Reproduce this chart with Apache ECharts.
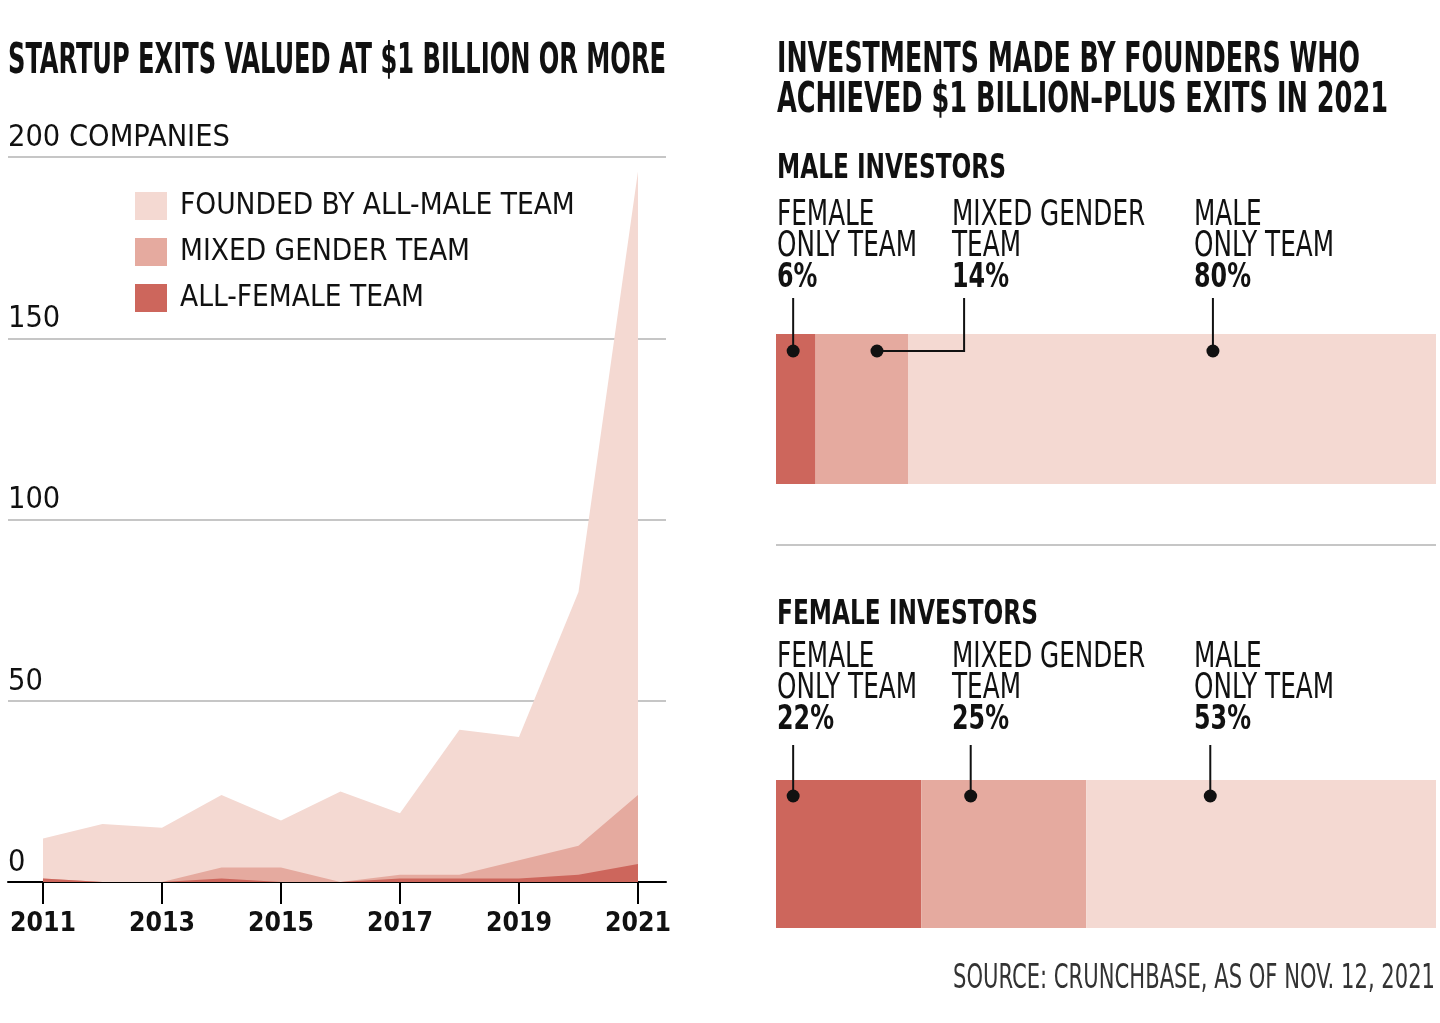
<!DOCTYPE html>
<html><head><meta charset="utf-8">
<script src="https://cdn.jsdelivr.net/npm/echarts@6/dist/echarts.min.js"></script>
<style>html,body{margin:0;padding:0;background:#fff}#c{width:1440px;height:1023px}</style>
</head><body><div id="c"></div>
<script>
// ---------- data ----------
const years = [2011,2012,2013,2014,2015,2016,2017,2018,2019,2020,2021];
const allMale   = [11,16,15,20,13,25,17,40,34,70,172];
const mixedTeam = [0,0,0,3,4,0,1,1,5,8,19];
const allFemale = [1,0,0,1,0,0,1,1,1,2,5];
const xTickYears = [2011,2013,2015,2017,2019,2021];
const yTicks = [0,50,100,150,200];
const seriesNames = ['FOUNDED BY ALL-MALE TEAM','MIXED GENDER TEAM','ALL-FEMALE TEAM'];

const teamLabels = [['FEMALE','ONLY TEAM'],['MIXED GENDER','TEAM'],['MALE','ONLY TEAM']];
const maleInvestorShares   = [6,14,80];
const femaleInvestorShares = [22,25,53];
// annotation anchors in % along the bar: [dot position, leader line position]
const maleAnchors   = [[2.6,2.6],[15.3,28.5],[66.2,66.2]];
const femaleAnchors = [[2.6,2.6],[29.5,29.5],[65.8,65.8]];

// ---------- style ----------
const COLORS = ['#f4d9d2','#e5aa9f','#cd665c']; // male, mixed, female
const FONT = "'Liberation Sans Narrow','DejaVu Sans Condensed','Roboto Condensed',sans-serif";
const INK = '#111';

const ctx = document.createElement('canvas').getContext('2d');
function measure(text, size, weight){ ctx.font = (weight||'normal')+' '+size+'px '+FONT; return ctx.measureText(text).width; }
function fitSize(text, size, weight, w){ return size * w / measure(text, size, weight); }
function fitScale(text, size, weight, w){ return w / measure(text, size, weight); }

function txt(text, x, y, size, weight, scaleX, align, color){
  return {type:'text', x:x, y:y, scaleX:scaleX, silent:true,
    style:{text:text, x:0, y:0, fontSize:size, fontWeight:weight, fontFamily:FONT,
      fill:color||INK, align:align||'left', verticalAlign:'middle'}};
}

const legendSize = fitSize('FOUNDED BY ALL-MALE TEAM', 30, 'normal', 395);
const yLabelSize = fitSize('200 COMPANIES', 31, 'normal', 222);
const xLabelSize = fitSize('2013', 31, 'bold', 66);

// graphic texts
const graphics = [];
graphics.push(txt('STARTUP EXITS VALUED AT $1 BILLION OR MORE', 8, 62, 42, 'bold',
  fitScale('STARTUP EXITS VALUED AT $1 BILLION OR MORE', 42, 'bold', 658)));
graphics.push(txt('INVESTMENTS MADE BY FOUNDERS WHO', 777, 61, 42, 'bold',
  fitScale('INVESTMENTS MADE BY FOUNDERS WHO', 42, 'bold', 583)));
graphics.push(txt('ACHIEVED $1 BILLION\u2013PLUS EXITS IN 2021', 777, 101, 42, 'bold',
  fitScale('ACHIEVED $1 BILLION\u2013PLUS EXITS IN 2021', 42, 'bold', 611)));
graphics.push(txt('MALE INVESTORS', 777, 169, 34, 'bold', fitScale('MALE INVESTORS', 34, 'bold', 229)));
graphics.push(txt('FEMALE INVESTORS', 777, 615, 34, 'bold', fitScale('FEMALE INVESTORS', 34, 'bold', 261)));

const regScale = fitScale('ONLY TEAM', 35, 'normal', 140);
const pctScale = fitScale('80%', 34, 'bold', 57);
const colX = [777, 952, 1194];
function labelBlock(shares, y0){
  teamLabels.forEach((lines, i) => {
    graphics.push(txt(lines[0], colX[i], y0, 35, 'normal', regScale));
    graphics.push(txt(lines[1], colX[i], y0 + 31, 35, 'normal', regScale));
    graphics.push(txt(shares[i] + '%', colX[i], y0 + 62, 34, 'bold', pctScale));
  });
}
labelBlock(maleInvestorShares, 216);
labelBlock(femaleInvestorShares, 658);

graphics.push({type:'line', silent:true, shape:{x1:776, y1:545, x2:1436, y2:545}, style:{stroke:'#b3b3b3', lineWidth:1.5}});
graphics.push(txt('SOURCE: CRUNCHBASE, AS OF NOV. 12, 2021', 1435, 979, 33, 'normal',
  fitScale('SOURCE: CRUNCHBASE, AS OF NOV. 12, 2021', 33, 'normal', 482), 'right', '#333'));

// ---------- series ----------
// stacked areas: each band's upper edge = cumulative sum of the layers below it
const layers = [allFemale, mixedTeam, allMale];
const cumulative = layers.map((_, k) => years.map((_, i) => layers.slice(0, k+1).reduce((s, arr) => s + arr[i], 0)));
function area(name, values, color, z){
  return {type:'line', name:name, xAxisIndex:0, yAxisIndex:0, z:z,
    data: years.map((y,i)=>[y, values[i]]), symbol:'none', smooth:false,
    lineStyle:{width:0, color:color}, itemStyle:{color:color},
    areaStyle:{color:color, opacity:1}};
}
function bars(shares, idx, prefix){
  return shares.map((v,i)=>({type:'bar', name:prefix+i, stack:prefix, xAxisIndex:idx, yAxisIndex:idx,
    data:[v], barWidth:'100%', silent:true, itemStyle:{color:COLORS[[2,1,0][i]]}}));
}
function annot(lead, drop){
  return function(params, api){
    const p = api.coord([api.value(0), 0]);
    const q = api.coord([api.value(2), 0]);
    const bh = api.size([0,1])[1];
    const top = p[1] - bh/2;
    const dy = top + drop;
    return {type:'group', children:[
      {type:'polyline', shape:{points:[[p[0],dy],[q[0],dy],[q[0],top-lead]]}, style:{stroke:INK, lineWidth:2, fill:null}},
      {type:'circle', shape:{cx:p[0], cy:dy, r:6.5}, style:{fill:INK}}
    ]};
  };
}

const option = {
  animation:false,
  backgroundColor:'#fff',
  textStyle:{fontFamily:FONT},
  grid:[
    {left:8, top:157, width:658, height:725},
    {left:776, top:334, width:660, height:150},
    {left:776, top:780, width:660, height:148}
  ],
  legend:{
    data:seriesNames, orient:'vertical', left:135, top:191, icon:'rect', padding:0,
    itemWidth:32, itemHeight:28, itemGap:16, selectedMode:false,
    itemStyle:{borderWidth:0},
    textStyle:{fontSize:legendSize, color:INK, fontFamily:FONT, padding:[0,0,0,8]}
  },
  xAxis:[
    {gridIndex:0, type:'value', min:2010.412, max:2021.471,
      axisLine:{show:true, onZero:false, lineStyle:{color:'#000', width:2}},
      axisTick:{show:true, customValues:xTickYears, length:22, lineStyle:{color:'#000', width:2}},
      axisLabel:{customValues:xTickYears, margin:29, fontSize:xLabelSize, fontWeight:'bold', color:INK, fontFamily:FONT,
        formatter: v => String(v)},
      splitLine:{show:false}},
    {gridIndex:1, type:'value', min:0, max:100, show:false},
    {gridIndex:2, type:'value', min:0, max:100, show:false}
  ],
  yAxis:[
    {gridIndex:0, type:'value', min:0, max:200, interval:50,
      axisLine:{show:false}, axisTick:{show:false},
      splitLine:{lineStyle:{color:'#b3b3b3', width:1.5}},
      axisLabel:{inside:true, margin:0, verticalAlign:'bottom', lineHeight:38,
        fontSize:yLabelSize, color:INK, fontFamily:FONT,
        formatter: v => v === yTicks[yTicks.length-1] ? v + ' COMPANIES' : String(v)}},
    {gridIndex:1, type:'category', data:['MALE INVESTORS'], show:false},
    {gridIndex:2, type:'category', data:['FEMALE INVESTORS'], show:false}
  ],
  series:[
    area(seriesNames[0], cumulative[2], COLORS[0], 2),
    area(seriesNames[1], cumulative[1], COLORS[1], 3),
    area(seriesNames[2], cumulative[0], COLORS[2], 4),
    ...bars(maleInvestorShares, 1, 'm'),
    ...bars(femaleInvestorShares, 2, 'f'),
    {type:'custom', xAxisIndex:1, yAxisIndex:1, z:10, silent:true, clip:false,
      data: maleAnchors.map(a=>[a[0],0,a[1]]), encode:{x:0, y:1}, renderItem: annot(36, 17)},
    {type:'custom', xAxisIndex:2, yAxisIndex:2, z:10, silent:true, clip:false,
      data: femaleAnchors.map(a=>[a[0],0,a[1]]), encode:{x:0, y:1}, renderItem: annot(35, 16)}
  ],
  graphic: graphics
};
const chart = echarts.init(document.getElementById('c'));
chart.setOption(option);
</script></body></html>
